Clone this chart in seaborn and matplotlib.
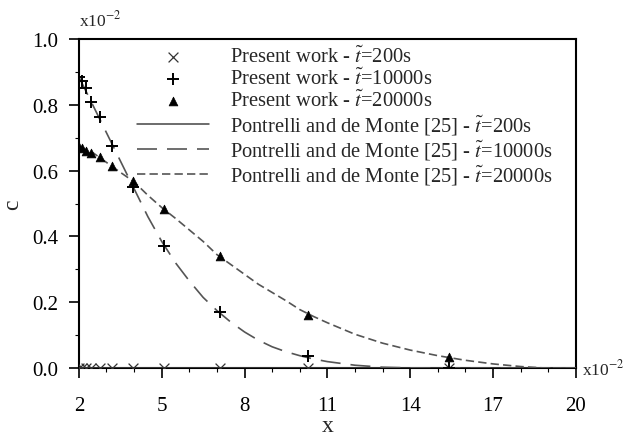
import numpy as np
import pandas as pd
import matplotlib
matplotlib.use("Agg")
import matplotlib.pyplot as plt
from matplotlib.ticker import MultipleLocator
import seaborn as sns

sns.set_theme(style="white", rc={"axes.edgecolor": "black", "xtick.color": "black", "ytick.color": "black"})
plt.rcParams['font.family'] = ['Liberation Serif', 'DejaVu Serif']
plt.rcParams['mathtext.fontset'] = 'stix'

# pontos do presente trabalho (x em 1e-2, c em 1e-2)
x_pts = [2.0, 2.1, 2.25, 2.45, 2.75, 3.2, 3.95, 5.1, 7.1, 10.3, 15.4]
c_200 = [0.0, 0.0, 0.0, 0.0, 0.0, 0.0, 0.0, 0.0, 0.0, 0.0, 0.0]
c_10000 = [0.885, 0.872, 0.852, 0.81, 0.763, 0.675, 0.55, 0.37, 0.17, 0.036, 0.0]
c_20000 = [0.672, 0.669, 0.66, 0.654, 0.64, 0.614, 0.568, 0.483, 0.34, 0.161, 0.033]

# curvas de referencia (Pontrelli and de Monte)
x_ref = [2.0, 2.5, 3.0, 3.5, 4.0, 4.5, 5.0, 5.5, 6.0, 6.5, 7.0, 7.5, 8.0, 8.5, 9.0, 9.5,
         10.0, 10.5, 11.0, 12.0, 13.0, 14.0, 15.0, 16.0, 17.0, 18.0, 19.0, 20.0]
ref_200 = [0.0] * 28
ref_10000 = [0.885, 0.80, 0.715, 0.63, 0.545, 0.46, 0.385, 0.32, 0.265, 0.215, 0.175, 0.14,
             0.11, 0.085, 0.065, 0.05, 0.038, 0.028, 0.02, 0.009, 0.003, 0.001, 0.0, 0.0,
             0.0, 0.0, 0.0, 0.0]
ref_20000 = [0.672, 0.655, 0.625, 0.595, 0.566, 0.525, 0.488, 0.455, 0.42, 0.385, 0.345, 0.315,
             0.285, 0.255, 0.23, 0.205, 0.178, 0.157, 0.138, 0.103, 0.076, 0.055, 0.038, 0.024,
             0.013, 0.005, 0.0, 0.0]

lab_t = r'$\tilde{t}$'
fig = plt.figure(figsize=(6.26, 4.39), dpi=100)
ax = fig.add_axes([0.126, 0.159, 0.794, 0.75])

sns.scatterplot(x=x_pts, y=c_200, marker='x', s=50, color='#333333', linewidth=0.9,
                label='Present work - ' + lab_t + '=200s', ax=ax, zorder=5)
sns.scatterplot(x=x_pts, y=c_10000, marker='+', s=70, color='black', linewidth=1.4,
                label='Present work - ' + lab_t + '=10000s', ax=ax, zorder=5)
sns.scatterplot(x=x_pts, y=c_20000, marker='^', s=40, color='black', edgecolor='black',
                label='Present work - ' + lab_t + '=20000s', ax=ax, zorder=5)

sns.lineplot(x=x_ref, y=ref_200, color='#444444', linewidth=1.1,
             label='Pontrelli and de Monte [25] - ' + lab_t + '=200s', ax=ax, zorder=3)
sns.lineplot(x=x_ref, y=ref_10000, color='#555555', linewidth=1.2, dashes=(12, 6),
             label='Pontrelli and de Monte [25] - ' + lab_t + '=10000s', ax=ax, zorder=3)
sns.lineplot(x=x_ref, y=ref_20000, color='#555555', linewidth=1.2, dashes=(5, 2.5),
             label='Pontrelli and de Monte [25] - ' + lab_t + '=20000s', ax=ax, zorder=3)

ax.set_xlim(2, 20)
ax.set_ylim(0, 1.0)
ax.set_xticks([2, 5, 8, 11, 14, 17, 20])
ax.xaxis.set_minor_locator(MultipleLocator(1))
ax.set_yticks([0.0, 0.2, 0.4, 0.6, 0.8, 1.0])
ax.yaxis.set_minor_locator(MultipleLocator(0.1))
ax.set_yticklabels(['0.0', '0.2', '0.4', '0.6', '0.8', '1.0'])
ax.tick_params(axis='both', which='major', direction='out', length=7, width=1.2, labelsize=15,
               bottom=True, left=True, top=False, right=False)
ax.tick_params(axis='x', which='major', pad=13)
ax.tick_params(axis='y', which='major', pad=8)
ax.tick_params(axis='both', which='minor', direction='out', length=3, width=0.8,
               bottom=True, left=True, top=False, right=False)
for sp in ax.spines.values():
    sp.set_linewidth(1.5)

ax.set_xlabel('x', fontsize=17, labelpad=0)
ax.set_ylabel('c', fontsize=17, labelpad=6)

ax.text(0.0, 1.03, r'x10$^{-2}$', transform=ax.transAxes, fontsize=12.5, ha='left', va='bottom')
ax.text(1.012, 0.0, r'x10$^{-2}$', transform=ax.transAxes, fontsize=12.5, ha='left', va='center')

ax.legend(loc='upper left', bbox_to_anchor=(0.117, 0.978), frameon=False, fontsize=14.8,
          handlelength=3.5, handletextpad=1.0, labelspacing=0.05, borderpad=0, borderaxespad=0)

fig.savefig('out.png', dpi=100)
